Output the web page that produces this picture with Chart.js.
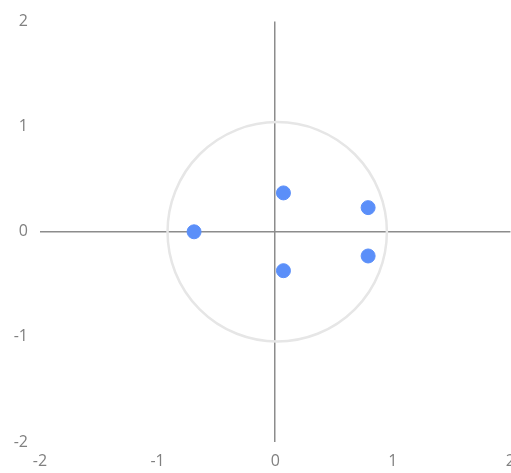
<!DOCTYPE html>
<html><head><meta charset="utf-8">
<script src="https://cdn.jsdelivr.net/npm/chart.js@4/dist/chart.umd.min.js"></script>
<style>html,body{margin:0;padding:0;overflow:hidden;background:#fff;}canvas{display:block;}</style>
</head><body>
<canvas id="c" width="525" height="473"></canvas>
<script>
const xValues = [-0.69, 0.07, 0.07, 0.79, 0.79];
const yValues = [0, 0.37, -0.37, 0.23, -0.23];
const tickValues = [-2, -1, 0, 1, 2];
const circleRadius = 1;

const points = xValues.map((x, i) => ({x: x, y: yValues[i]}));

const circlePlugin = {
  id: 'unitCircle',
  beforeDatasetsDraw(chart) {
    const {ctx, scales} = chart;
    const cx = scales.x.getPixelForValue(0), cy = scales.y.getPixelForValue(0);
    const ry = Math.abs(scales.y.getPixelForValue(circleRadius) - cy);
    const rx = Math.abs(scales.x.getPixelForValue(circleRadius) - cx);
    const r = (rx + ry) / 2 * 0.985;
    ctx.save();
    ctx.beginPath();
    ctx.arc(cx + 2, cy, r, 0, Math.PI * 2);
    ctx.strokeStyle = '#e6e6e6';
    ctx.lineWidth = 2.5;
    ctx.stroke();
    ctx.restore();
  }
};

const axisColor = c => (c.tick && c.tick.value === 0) ? '#8c8c8c' : 'rgba(0,0,0,0)';
const font = {family: 'Open Sans', size: 16};

new Chart(document.getElementById('c'), {
  type: 'scatter',
  data: {datasets: [{
    data: points,
    backgroundColor: '#5B8FF9',
    borderColor: '#5B8FF9',
    pointRadius: 7,
    pointHoverRadius: 7
  }]},
  options: {
    responsive: false,
    animation: false,
    layout: {padding: {top: 3, bottom: 0, left: 0, right: 0}},
    plugins: {legend: {display: false}, tooltip: {enabled: false}},
    scales: {
      x: {
        type: 'linear', min: -2, max: 2,
        afterBuildTicks: s => { s.ticks = tickValues.map(v => ({value: v})); },
        afterFit: s => { s.height = 31; },
        ticks: {color: '#808080', font: font, padding: 10, maxRotation: 0, callback: v => String(v)},
        grid: {color: axisColor, lineWidth: 1.5, drawTicks: false},
        border: {display: false}
      },
      y: {
        type: 'linear', min: -2, max: 2,
        afterBuildTicks: s => { s.ticks = tickValues.map(v => ({value: v})); },
        afterFit: s => { s.width = 40; },
        ticks: {color: '#808080', font: font, padding: 12, callback: v => String(v)},
        grid: {color: axisColor, lineWidth: 1.5, drawTicks: false},
        border: {display: false}
      }
    }
  },
  plugins: [circlePlugin]
});
</script>
</body></html>
